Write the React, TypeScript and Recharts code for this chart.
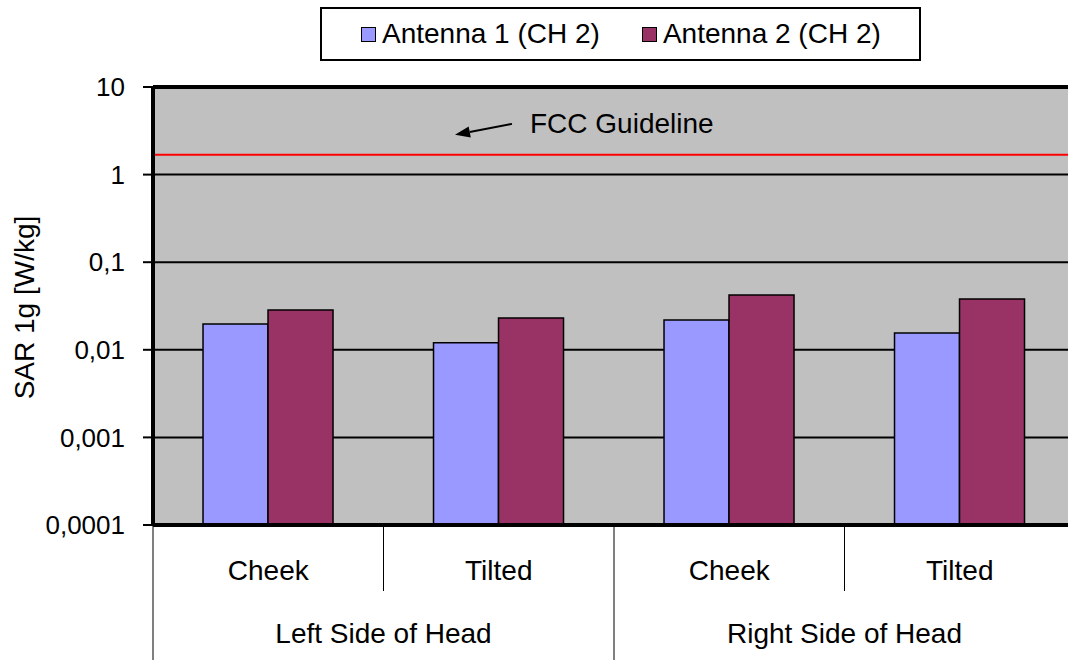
import React from 'react';
import { BarChart, Bar, XAxis, YAxis, CartesianGrid, ReferenceLine, Legend } from 'recharts';

// ---- data ----
const positions = ['Cheek', 'Tilted', 'Cheek', 'Tilted'];
const sides = ['Left Side of Head', 'Left Side of Head', 'Right Side of Head', 'Right Side of Head'];
const antenna1 = [0.0197, 0.012, 0.0219, 0.0156];
const antenna2 = [0.0285, 0.0231, 0.0423, 0.038];
const seriesNames = ['Antenna 1 (CH 2)', 'Antenna 2 (CH 2)'];
const seriesColors = ['#9999FF', '#993366'];
const yTicks = [0.0001, 0.001, 0.01, 0.1, 1, 10];
const yTickLabels = ['0,0001', '0,001', '0,01', '0,1', '1', '10'];
const yAxisTitle = 'SAR 1g [W/kg]';
const fccLimit = 1.68;
const fccLabel = 'FCC Guideline';

const data = positions.map((p, i) => ({
  position: p,
  side: sides[i],
  a1: antenna1[i],
  a2: antenna2[i],
}));

// ---- layout ----
const CHART_W = 1080;
const CHART_H = 660;
const MARGIN = { top: 87, right: 5, bottom: 0, left: 0 };
const Y_AXIS_W = 153;
const X_AXIS_H = 135;
const FONT = "'Liberation Sans', Arial, Helvetica, sans-serif";
const halfBandFallback = (CHART_W - MARGIN.left - MARGIN.right - Y_AXIS_W) / positions.length / 2;

const CategoryTick = (props: any) => {
  const { x, y, index, payload } = props;
  const half = payload && typeof payload.offset === 'number' && payload.offset > 0 ? payload.offset : halfBandFallback;
  const n = positions.length;
  const i = index as number;
  const left = x - half;
  const startsGroup = i === 0 || sides[i] !== sides[i - 1];
  let span = 1;
  if (startsGroup) {
    while (i + span < n && sides[i + span] === sides[i]) span++;
  }
  const longLen = 135;
  const shortLen = 66;
  return (
    <g>
      <line x1={left} y1={y} x2={left} y2={y + (startsGroup ? longLen : shortLen)} stroke="#000" strokeWidth={1} />
      {i === n - 1 && (
        <line x1={x + half} y1={y} x2={x + half} y2={y + longLen} stroke="#000" strokeWidth={1} />
      )}
      <text x={x} y={y + 55} textAnchor="middle" fontSize={28} fill="#000" fontFamily={FONT}>
        {positions[i]}
      </text>
      {startsGroup && (
        <text x={left + span * half} y={y + 118} textAnchor="middle" fontSize={28} fill="#000" fontFamily={FONT}>
          {sides[i]}
        </text>
      )}
    </g>
  );
};

const YTitle = (props: any) => {
  const vb = props.viewBox || { x: 0, y: MARGIN.top, width: Y_AXIS_W, height: 438 };
  const cx = vb.x + 24;
  const cy = vb.y + vb.height / 2 + 1.5;
  return (
    <text
      x={cx}
      y={cy}
      transform={`rotate(-90 ${cx} ${cy})`}
      textAnchor="middle"
      dy="0.36em"
      fontSize={28}
      fill="#000"
      fontFamily={FONT}
    >
      {yAxisTitle}
    </text>
  );
};

const FccAnnotation = (props: any) => {
  const vb = props.viewBox || { x: Y_AXIS_W, y: 155, width: 922 };
  const x0 = vb.x;
  const y0 = vb.y;
  const tail = { x: x0 + 359, y: y0 - 31 };
  const head = { x: x0 + 302, y: y0 - 20 };
  const dx = head.x - tail.x;
  const dy = head.y - tail.y;
  const len = Math.sqrt(dx * dx + dy * dy);
  const ux = dx / len;
  const uy = dy / len;
  const hl = 15;
  const hw = 5.5;
  const bx = head.x - ux * hl;
  const by = head.y - uy * hl;
  const nx = -uy * hw;
  const ny = ux * hw;
  return (
    <g>
      <line x1={tail.x} y1={tail.y} x2={bx} y2={by} stroke="#000" strokeWidth={2} />
      <polygon points={`${head.x},${head.y} ${bx + nx},${by + ny} ${bx - nx},${by - ny}`} fill="#000" />
      <text x={x0 + 377} y={y0 - 22} fontSize={28} fill="#000" fontFamily={FONT}>
        {fccLabel}
      </text>
    </g>
  );
};

const LegendBox = (props: any) => {
  const items: any[] = props.payload || [];
  return (
    <div
      style={{
        width: '100%',
        height: '100%',
        boxSizing: 'border-box',
        border: '2px solid #000',
        background: '#fff',
        display: 'flex',
        alignItems: 'center',
        paddingLeft: 39,
        fontSize: 28,
        fontFamily: FONT,
        color: '#000',
        lineHeight: 1,
        whiteSpace: 'nowrap',
      }}
    >
      {items.map((it: any, i: number) => (
        <div key={i} style={{ display: 'flex', alignItems: 'center', marginRight: 42 }}>
          <span
            style={{
              display: 'inline-block',
              width: 15,
              height: 15,
              boxSizing: 'border-box',
              border: '1.5px solid #000',
              background: it.color,
              marginRight: 6,
            }}
          />
          <span>{it.value}</span>
        </div>
      ))}
    </div>
  );
};

export default function App() {
  return (
    <div
      style={{
        position: 'fixed',
        left: 0,
        top: 0,
        width: 1068,
        height: 660,
        overflow: 'hidden',
        background: '#fff',
        fontFamily: FONT,
      }}
    >
      <BarChart
        width={CHART_W}
        height={CHART_H}
        data={data}
        margin={MARGIN}
        barCategoryGap="21.7%"
        barGap={0}
      >
        <CartesianGrid vertical={false} stroke="#000" strokeWidth={2} fill="#C0C0C0" fillOpacity={1} />
        <XAxis
          dataKey="position"
          height={X_AXIS_H}
          interval={0}
          tickSize={0}
          tickMargin={0}
          tickLine={false}
          axisLine={{ stroke: '#000', strokeWidth: 4 }}
          tick={<CategoryTick />}
        />
        <YAxis
          type="number"
          scale="log"
          domain={[yTicks[0], yTicks[yTicks.length - 1]]}
          ticks={yTicks}
          allowDataOverflow
          width={Y_AXIS_W}
          tickSize={10}
          tickMargin={18}
          interval={0}
          tickFormatter={(v: number) => {
            const k = yTicks.indexOf(v);
            return k >= 0 ? yTickLabels[k] : String(v);
          }}
          tick={{ fontSize: 26, fill: '#000', fontFamily: FONT }}
          tickLine={{ stroke: '#000', strokeWidth: 2 }}
          axisLine={{ stroke: '#000', strokeWidth: 4 }}
          label={(p: any) => <YTitle {...p} />}
        />
        <Legend
          layout="horizontal"
          verticalAlign="middle"
          align="center"
          content={(p: any) => <LegendBox {...p} />}
          wrapperStyle={{ top: 7, left: 320, width: 601, height: 54 }}
        />
        <Bar dataKey="a1" name={seriesNames[0]} fill={seriesColors[0]} stroke="#000" strokeWidth={1.5} isAnimationActive={false} />
        <Bar dataKey="a2" name={seriesNames[1]} fill={seriesColors[1]} stroke="#000" strokeWidth={1.5} isAnimationActive={false} />
        <ReferenceLine y={yTicks[yTicks.length - 1]} stroke="#000" strokeWidth={4} />
        <ReferenceLine
          y={fccLimit}
          stroke="#FF0000"
          strokeWidth={2}
          label={(p: any) => <FccAnnotation {...p} />}
        />
      </BarChart>
    </div>
  );
}
